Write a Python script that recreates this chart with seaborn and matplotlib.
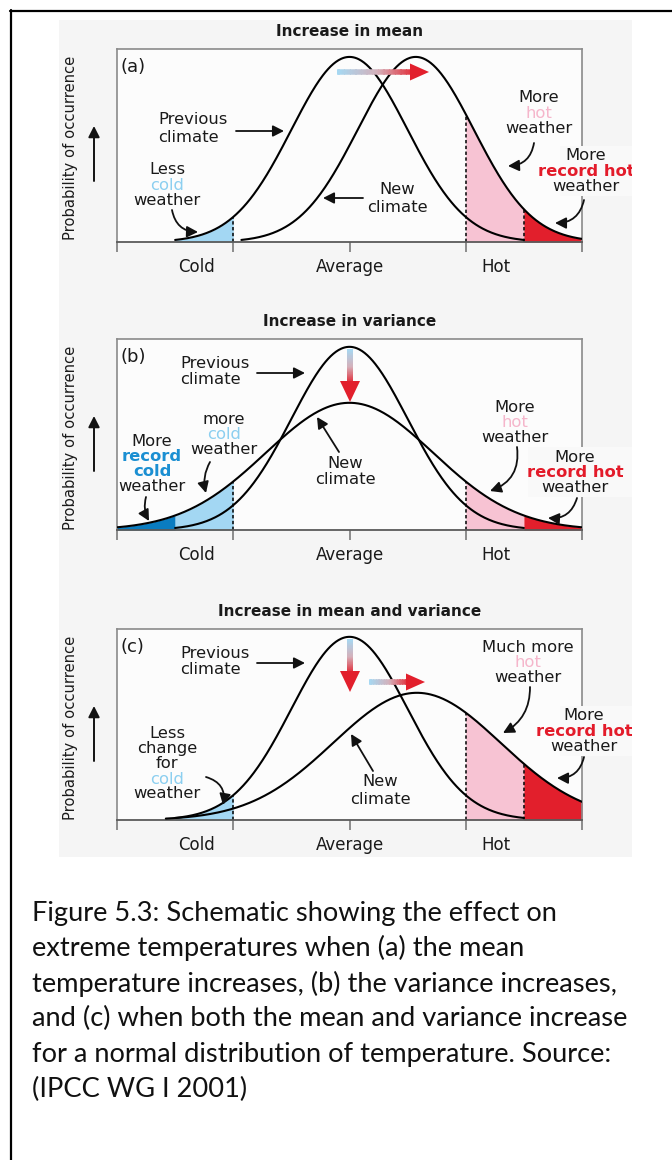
import numpy as np
import pandas as pd
import matplotlib
matplotlib.use("Agg")
import matplotlib.pyplot as plt
import seaborn as sns
from matplotlib.transforms import Affine2D, Bbox, TransformedBbox
from matplotlib.patches import Rectangle, Polygon
from matplotlib.collections import LineCollection
from matplotlib.colors import LinearSegmentedColormap
from matplotlib.text import Annotation

panel_titles = ["Increase in mean", "Increase in variance", "Increase in mean and variance"]
panel_tags = ["(a)", "(b)", "(c)"]
prev_mean = [0.0, 0.0, 0.0]          # previous climate: mean (temperature units)
prev_sd = [0.5, 0.5, 0.5]            # previous climate: standard deviation
new_mean = [0.57, 0.0, 0.58]         # new climate: mean
new_sd = [0.5, 0.72, 0.72]           # new climate: standard deviation
x_ticks = [-2.0, -1.0, 0.0, 1.0, 2.0]
tick_label_pos = [-1.32, 0.0, 1.26]
tick_labels = ["Cold", "Average", "Hot"]
record_cold_thr = -1.5
cold_thr = -1.0
hot_thr = 1.0
record_hot_thr = 1.5
x_range = (-2.0, 2.0)
y_range = (0.0, 0.832)
y_label = "Probability of occurrence"
caption_lines = [
    "Figure 5.3: Schematic showing the effect on",
    "extreme temperatures when (a) the mean",
    "temperature increases, (b) the variance increases,",
    "and (c) when both the mean and variance increase",
    "for a normal distribution of temperature. Source:",
    "(IPCC WG I 2001)",
]

# ---------------- style ----------------
sns.set_theme(style="white")
plt.rcParams["font.family"] = ["DejaVu Sans"]

LIGHT_BLUE = "#a3d7f3"
DARK_BLUE = "#0a7cc0"
PINK = "#f7c3d3"
RED = "#e21f2c"
TXT_LBLUE = "#8ccff0"
TXT_DBLUE = "#1b8fd2"
TXT_PINK = "#f5b6cb"
TXT_RED = "#e31b2a"
BOX_GRAY = "#8a8a8a"
PANEL_BG = "#f5f5f5"
AX_BG = "#fcfcfc"
LABEL_SIZE = 11.8

W, H = 672, 1160
fig = plt.figure(figsize=(W / 100, H / 100), dpi=100)
fig.patch.set_facecolor("white")
pix = Affine2D().scale(1.0 / W, -1.0 / H).translate(0, 1) + fig.transFigure

# outer frame (left and top edges visible)
fig.add_artist(plt.Line2D([10.5, 10.5], [10, H], transform=pix, color="black", lw=1.6))
fig.add_artist(plt.Line2D([10, W], [10.5, 10.5], transform=pix, color="black", lw=1.6))
# light gray figure panel
fig.add_artist(Rectangle((59, 20), 573, 837, transform=pix, facecolor=PANEL_BG,
                         edgecolor="none", zorder=-1))
panel_clip = TransformedBbox(Bbox([[59, 20], [632, 857]]), pix)

box_left, box_right = 117, 582
box_tops = [49, 339, 629]
box_bottoms = [242, 530, 820]


def npdf(x, m, s):
    return np.exp(-0.5 * ((x - m) / s) ** 2) / (s * np.sqrt(2 * np.pi))


def curve_frame(m, s):
    lo = max(x_range[0], m - 3 * s)
    hi = min(x_range[1], m + 3 * s)
    xs = np.linspace(lo, hi, 400)
    return pd.DataFrame({"temperature": xs, "probability": npdf(xs, m, s)})


def fill_under(ax, m, s, a, b, color):
    xs = np.linspace(a, b, 200)
    ax.fill_between(xs, 0, npdf(xs, m, s), color=color, lw=0, zorder=1)


def dotted(ax, x, m, s):
    ax.plot([x, x], [0, npdf(x, m, s)], color="black", lw=1.1,
            ls=(0, (2.2, 1.6)), zorder=2)


def txt(x, y, s, color="#1a1a1a", weight="normal", size=LABEL_SIZE, ha="center",
        clip=False, **kw):
    t = fig.text(x, y, s, transform=pix, ha=ha, va="center", color=color,
                 fontsize=size, fontweight=weight, **kw)
    if clip:
        t.set_clip_box(panel_clip)
        t.set_clip_on(True)
    return t


def stack(x, y0, lines, step=15.2, ha="center", size=LABEL_SIZE):
    for i, item in enumerate(lines):
        if isinstance(item, str):
            txt(x, y0 + i * step, item, ha=ha, size=size, clip=True)
        else:
            s, c, w = item
            txt(x, y0 + i * step, s, color=c, weight=w, ha=ha, size=size, clip=True)


def arrow(x0, y0, x1, y1, rad=0.0, lw=1.3):
    ann = Annotation("", xy=(x1, y1), xytext=(x0, y0), xycoords=pix, textcoords=pix,
                     arrowprops=dict(arrowstyle="-|>,head_length=0.55,head_width=0.28",
                                     color="#111111", lw=lw, shrinkA=0, shrinkB=0,
                                     connectionstyle=f"arc3,rad={rad}"))
    fig.add_artist(ann)


grad_cmap = LinearSegmentedColormap.from_list("warm", ["#a6d8f2", "#d4b0ba", "#e3202c"])


def grad_arrow(x0, y0, x1, y1, shaft=5.5, head_w=17, head_l=19):
    d = np.array([x1 - x0, y1 - y0], float)
    L = np.hypot(*d)
    u = d / L
    n = np.array([-u[1], u[0]])
    base = np.array([x1, y1]) - u * head_l
    N = 60
    ts = np.linspace(0, 1, N + 1)
    pts = np.array([x0, y0]) + np.outer(ts, base - np.array([x0, y0]))
    segs = [[pts[i], pts[i + 1] + u * 0.3] for i in range(N)]
    lc = LineCollection(segs, colors=grad_cmap(ts[:-1] * 0.92), linewidths=shaft * 0.72,
                        transform=pix, capstyle="butt", zorder=4)
    fig.add_artist(lc)
    tri = [base + n * head_w / 2, np.array([x1, y1]), base - n * head_w / 2]
    fig.add_artist(Polygon(tri, closed=True, transform=pix, facecolor=RED,
                           edgecolor="none", zorder=4))


axes = []
for i in range(3):
    top, bot = box_tops[i], box_bottoms[i]
    ax = fig.add_axes([box_left / W, 1 - bot / H, (box_right - box_left) / W, (bot - top) / H])
    ax.set_facecolor(AX_BG)
    axes.append(ax)

    m0, s0, m1, s1 = prev_mean[i], prev_sd[i], new_mean[i], new_sd[i]

    # shaded extremes
    if i == 1:
        fill_under(ax, m1, s1, x_range[0], record_cold_thr, DARK_BLUE)
        fill_under(ax, m1, s1, record_cold_thr, cold_thr, LIGHT_BLUE)
        dotted(ax, cold_thr, m1, s1)
    else:
        fill_under(ax, m0, s0, record_cold_thr, cold_thr, LIGHT_BLUE)
        dotted(ax, cold_thr, m0, s0)
    fill_under(ax, m1, s1, hot_thr, record_hot_thr, PINK)
    fill_under(ax, m1, s1, record_hot_thr, x_range[1], RED)
    dotted(ax, hot_thr, m1, s1)
    if i != 1:
        dotted(ax, record_hot_thr, m1, s1)

    sns.lineplot(data=curve_frame(m0, s0), x="temperature", y="probability", ax=ax,
                 color="black", lw=1.5, zorder=3)
    sns.lineplot(data=curve_frame(m1, s1), x="temperature", y="probability", ax=ax,
                 color="black", lw=1.5, zorder=3)

    ax.set_xlim(*x_range)
    ax.set_ylim(*y_range)
    ax.set_xlabel("")
    ax.set_ylabel("")
    ax.set_yticks([])
    ax.xaxis.remove_overlapping_locs = False
    ax.set_xticks(x_ticks, labels=[""] * len(x_ticks))
    ax.set_xticks(tick_label_pos, labels=tick_labels, minor=True)
    ax.tick_params(axis="x", which="major", direction="out", length=7.5, width=1.1,
                   color="#6f6f6f", bottom=True)
    ax.tick_params(axis="x", which="minor", length=0, pad=11.5, labelsize=12,
                   labelcolor="#1a1a1a", bottom=True)
    for side in ["left", "right", "top"]:
        ax.spines[side].set_color(BOX_GRAY)
        ax.spines[side].set_linewidth(1.2)
        ax.spines[side].set_visible(True)
    ax.spines["bottom"].set_color("#5a5a5a")
    ax.spines["bottom"].set_linewidth(1.3)

    off = [0, 290, 580][i]
    txt(350, 31 + off, panel_titles[i], weight="bold", size=11)
    txt(121, 67 + off, panel_tags[i], ha="left", size=13)
    txt(71, 148 + off, y_label, rotation=90, size=10.6)
    arrow(94, 181 + off, 94, 126 + off, lw=1.4)

# ---------------- panel (a) annotations ----------------
stack(158, 120, ["Previous", "climate"], step=17, ha="left")
arrow(236, 131, 284, 131)
stack(167, 170, ["Less", ("cold", TXT_LBLUE, "normal"), "weather"])
arrow(172, 210, 198, 232, rad=0.4)
stack(397, 190, ["New", "climate"], step=17)
arrow(363, 198, 323, 198)
stack(539, 98, ["More", ("hot", TXT_PINK, "normal"), "weather"])
arrow(534, 143, 508, 166, rad=-0.4)
fig.add_artist(Rectangle((560, 146), 72, 50, transform=pix, facecolor="#f9f9f9",
                         edgecolor="none", zorder=2))
stack(586, 156, ["More", ("record hot", TXT_RED, "bold"), "weather"])
arrow(584, 200, 555, 223, rad=-0.4)
grad_arrow(337, 72, 429, 72, shaft=5.5, head_w=17, head_l=19)

# ---------------- panel (b) annotations ----------------
stack(180, 363, ["Previous", "climate"], step=17, ha="left")
arrow(257, 373, 305, 373)
stack(224, 419, ["more", ("cold", TXT_LBLUE, "normal"), "weather"])
arrow(210, 462, 206, 493, rad=0.2)
stack(152, 441, ["More", ("record", TXT_DBLUE, "bold"), ("cold", TXT_DBLUE, "bold"), "weather"])
arrow(146, 497, 149, 521, rad=0.2)
stack(345, 463, ["New", "climate"], step=17)
arrow(339, 452, 317, 417)
stack(515, 407, ["More", ("hot", TXT_PINK, "normal"), "weather"])
arrow(517, 447, 490, 491, rad=-0.4)
fig.add_artist(Rectangle((528, 447), 104, 50, transform=pix, facecolor="#f9f9f9",
                         edgecolor="none", zorder=2))
stack(575, 457, ["More", ("record hot", TXT_RED, "bold"), "weather"])
arrow(577, 498, 548, 518, rad=-0.4)
grad_arrow(350, 349, 350, 402, shaft=6, head_w=20, head_l=21)

# ---------------- panel (c) annotations ----------------
stack(180, 653, ["Previous", "climate"], step=17, ha="left")
arrow(257, 663, 305, 663)
stack(167, 734, ["Less", "change", "for", ("cold", TXT_LBLUE, "normal"), "weather"], step=15)
arrow(206, 777, 223, 805, rad=-0.45)
stack(380, 782, ["New", "climate"], step=17)
arrow(373, 771, 351, 734)
stack(528, 647, ["Much more", ("hot", TXT_PINK, "normal"), "weather"])
arrow(530, 687, 503, 733, rad=-0.3)
fig.add_artist(Rectangle((560, 706), 72, 50, transform=pix, facecolor="#f9f9f9",
                         edgecolor="none", zorder=2))
stack(584, 716, ["More", ("record hot", TXT_RED, "bold"), "weather"])
arrow(584, 757, 557, 778, rad=-0.4)
grad_arrow(350, 639, 350, 692, shaft=6, head_w=20, head_l=21)
grad_arrow(369, 682, 425, 682, shaft=5.5, head_w=17, head_l=19)

# ---------------- caption ----------------
for k, line in enumerate(caption_lines):
    fig.text(32 / W, 1 - (913 + k * 35.3) / H, line, ha="left", va="center",
             fontsize=19.6, family=["Lato", "DejaVu Sans"], color="#111111")

fig.savefig("out.png", dpi=100, facecolor="white")
